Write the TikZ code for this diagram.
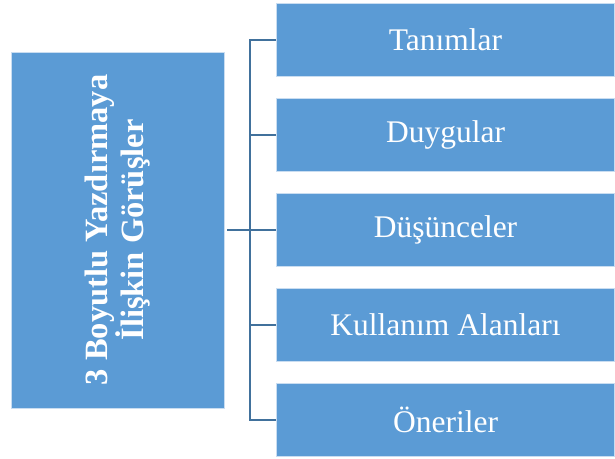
\documentclass[tikz,border=0pt]{standalone}
\usepackage{fontspec}
\setmainfont{Liberation Serif}
\usetikzlibrary{positioning,calc}

\definecolor{boxblue}{HTML}{5B9BD5}
\definecolor{boxedge}{HTML}{C9DDF1}
\definecolor{linkblue}{HTML}{41719C}

\tikzset{
  topicbox/.style={fill=boxblue, draw=boxedge, line width=0.8pt, text=white,
    minimum width=338pt, minimum height=73pt, inner sep=0pt,
    font=\fontsize{31.5}{30}\selectfont},
  mainbox/.style={fill=boxblue, draw=boxedge, line width=0.8pt, text=white,
    minimum width=213pt, minimum height=356pt, inner sep=0pt},
  link/.style={linkblue, line width=2.2pt}
}

\begin{document}
\begin{tikzpicture}[x=1pt, y=-1pt]
  \useasboundingbox (0,0) rectangle (615,458);
  % Main box
  \node[mainbox] (main) at (117.5,230) {};
  \node[text=white, rotate=90, align=center,
        font=\fontsize{32.5}{30}\selectfont\bfseries] (title) at (main.center)
        {3 Boyutlu Yazdırmaya\\İlişkin Görüşler};
  % Topic boxes
  \foreach \i/\y/\t in {1/40/Tanımlar, 2/135/Duygular, 3/230/Düşünceler,
                        4/325/Kullanım Alanları, 5/420/Öneriler}
    \node[topicbox] (b\i) at (445.5,\y) {\t};
  % Connectors
  \coordinate (trunk) at (250,230);
  \draw[link, shorten <=3pt] (main.east) -- (trunk);
  \foreach \i in {1,...,5}
    \draw[link] (b\i.west) -| (trunk);
\end{tikzpicture}
\end{document}
